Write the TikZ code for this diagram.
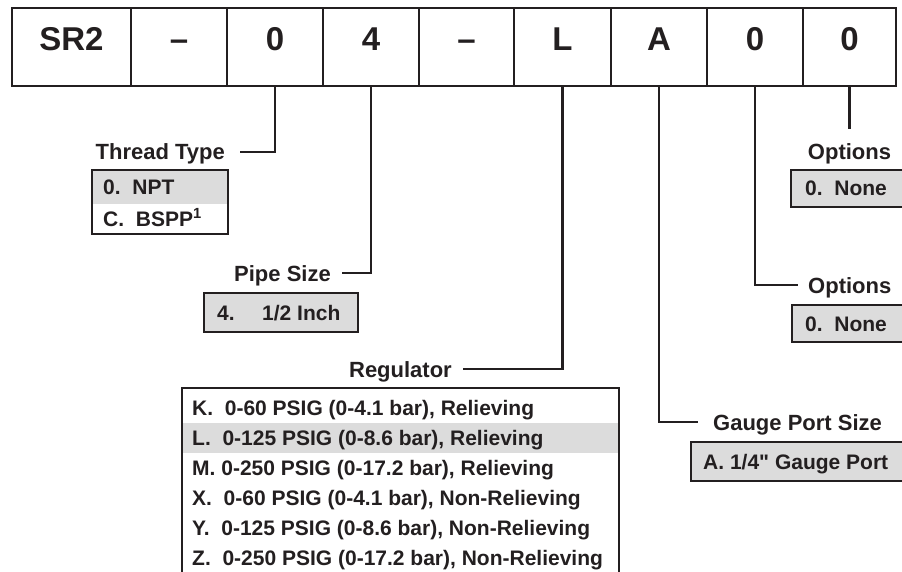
\documentclass[tikz,border=0pt]{standalone}
\usepackage{fontspec}
\setmainfont{Liberation Sans}
\newfontfamily\plainsans{Liberation Sans}
\definecolor{ink}{HTML}{231F20}
\definecolor{lgray}{HTML}{DCDCDC}
\tikzset{
  cell/.style={draw=ink, line width=2.5pt, minimum height=78pt, inner sep=0pt,
    text=ink, font=\fontsize{33}{38}\selectfont\bfseries, text height=0.73em, text depth=0pt},
  lbl/.style={inner sep=0pt, text=ink, font=\fontsize{22}{26}\selectfont\bfseries},
  itm/.style={inner sep=0pt, text=ink, font=\fontsize{21}{25}\selectfont\bfseries},
  conn/.style={draw=ink, line width=2.3pt},
  boxline/.style={draw=ink, line width=2.5pt},
}
\begin{document}
\begin{tikzpicture}[x=1pt,y=-1pt]
\useasboundingbox (0,0) rectangle (902,572);
\clip (0,0) rectangle (902,572);
% top row
\node[cell, minimum width=119pt] (c1) at (71.5,47) {SR2};
\node[cell, minimum width=96pt] (c2) at (179,47) {–};
\node[cell, minimum width=96pt] (c3) at (275,47) {0};
\node[cell, minimum width=96pt] (c4) at (371,47) {4};
\node[cell, minimum width=95pt] (c5) at (466.5,47) {–};
\node[cell, minimum width=97pt] (c6) at (562.5,47) {L};
\node[cell, minimum width=96pt] (c7) at (659,47) {A};
\node[cell, minimum width=96pt] (c8) at (755,47) {0};
\node[cell, minimum width=93pt] (c9) at (849.5,47) {0};

% Thread type
\node[lbl, anchor=base east] (tt) at (225,160) {Thread Type};
\draw[conn] (c3.south) |- ([xshift=15pt,yshift=8pt]tt.base east);
\fill[lgray] (92,170) rectangle (228,204);
\draw[boxline] (92,170) rectangle (228,234);
\node[itm, anchor=base west] (tt1) at (103,194.5) {0.\ \ NPT};
\node[itm, anchor=base west] (tt2) at (103,226.5) {C.\ \ BSPP\textsuperscript{1}};

% Pipe size
\node[lbl, anchor=base east] (ps) at (331,281) {Pipe Size};
\draw[conn] (c4.south) |- ([xshift=11pt,yshift=8pt]ps.base east);
\draw[boxline, fill=lgray] (204,293) rectangle (358,332);
\node[itm, anchor=base west] (ps1) at (217,320) {4.};
\node[itm, anchor=base west] (ps2) at (262,320) {1/2 Inch};

% Regulator
\node[lbl, anchor=base east] (rg) at (452,377) {Regulator};
\draw[conn] (c6.south) |- ([xshift=11pt,yshift=8pt]rg.base east);
\fill[lgray] (182,423) rectangle (619,453);
\draw[boxline] (182,620) -- (182,388) -- (619,388) -- (619,620);
\node[itm, anchor=base west] (r1) at (192,415.5) {K.\ \ 0-60 PSIG (0-4.1 bar), Relieving};
\node[itm, anchor=base west] (r2) at (192,445.5) {L.\ \ 0-125 PSIG (0-8.6 bar), Relieving};
\node[itm, anchor=base west] (r3) at (192,475.5) {M.\ 0-250 PSIG (0-17.2 bar), Relieving};
\node[itm, anchor=base west] (r4) at (192,505.5) {X.\ \ 0-60 PSIG (0-4.1 bar), Non-Relieving};
\node[itm, anchor=base west] (r5) at (192,535.5) {Y.\ \ 0-125 PSIG (0-8.6 bar), Non-Relieving};
\node[itm, anchor=base west] (r6) at (192,565.5) {Z.\ \ 0-250 PSIG (0-17.2 bar), Non-Relieving};

% Gauge port size
\node[lbl, anchor=base west] (gp) at (713,430) {Gauge Port Size};
\draw[conn] (c7.south) |- ([xshift=-15pt,yshift=8pt]gp.base west);
\draw[boxline, fill=lgray] (691,442) rectangle (940,481);
\node[itm, anchor=base west] (gp1) at (703,469) {\plainsans\bfseries A. 1/4" Gauge Port};

% Options (lower)
\node[lbl, anchor=base west] (o2) at (808,293) {Options};
\draw[conn] (c8.south) |- ([xshift=-10pt,yshift=8pt]o2.base west);
\draw[boxline, fill=lgray] (792,305) rectangle (940,342);
\node[itm, anchor=base west] (o21) at (805,331) {0.\ \ None};

% Options (upper)
\node[lbl, anchor=base] (o1) at (849.5,160) {Options};
\draw[conn] (c9.south) -- ([yshift=31pt]o1.base);
\draw[boxline, fill=lgray] (791,170) rectangle (940,207);
\node[itm, anchor=base west] (o11) at (805,196) {0.\ \ None};
\end{tikzpicture}
\end{document}
